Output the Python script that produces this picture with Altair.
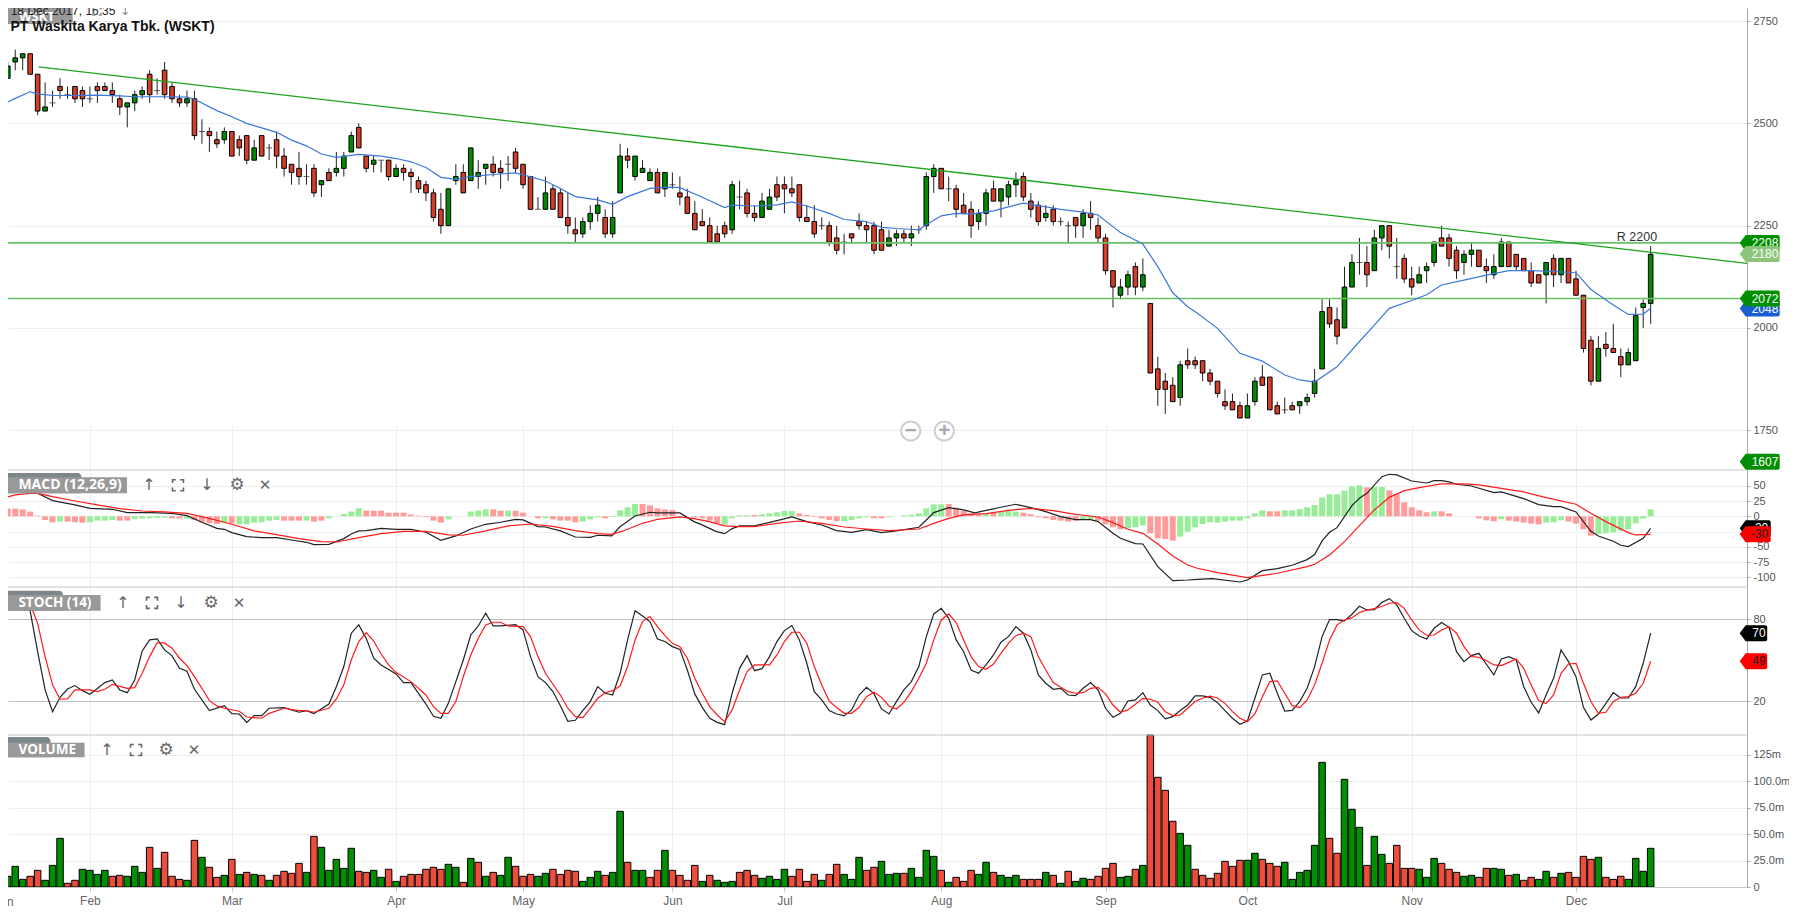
import altair as alt
import pandas as pd

# ---- candles (one value per trading day) ----
opens = [2640,2610,2650,2660,2670,2620,2530,2550,2590,2570,
 2590,2580,2560,2590,2590,2580,2560,2540,2550,2570,
 2620,2580,2630,2590,2560,2550,2560,2480,2480,2460,
 2460,2480,2460,2470,2410,2470,2440,2460,2420,2400,
 2390,2370,2390,2350,2380,2380,2390,2430,2490,2420,
 2400,2410,2410,2370,2390,2380,2360,2350,2330,2290,
 2250,2360,2380,2360,2370,2390,2400,2390,2400,2430,
 2400,2370,2290,2290,2340,2330,2270,2240,2230,2260,
 2280,2270,2230,2330,2420,2370,2380,2360,2380,2340,
 2350,2330,2320,2280,2260,2250,2230,2250,2240,2320,
 2330,2280,2270,2290,2350,2350,2340,2350,2270,2260,
 2250,2250,2220,2210,2230,2260,2250,2250,2240,2200,
 2220,2230,2220,2240,2250,2370,2390,2340,2340,2300,
 2290,2260,2280,2340,2310,2320,2350,2370,2310,2300,
 2270,2290,2260,2250,2270,2250,2280,2250,2220,2140,
 2080,2100,2150,2100,2060,1900,1870,1860,1830,1920,
 1920,1920,1890,1870,1820,1820,1810,1780,1820,1880,
 1880,1810,1800,1810,1810,1820,1840,1900,2050,2020,
 2000,2100,2160,2160,2140,2220,2250,2150,2170,2120,
 2110,2140,2160,2220,2220,2190,2160,2180,2190,2150,
 2130,2150,2210,2180,2170,2140,2130,2130,2170,2130,
 2170,2120,2080,1970,1870,1960,1950,1930,1910,1920,
 2050,2060]
highs = [2650,2650,2680,2670,2670,2620,2600,2580,2610,2590,
 2590,2590,2590,2600,2600,2600,2570,2550,2580,2590,
 2630,2610,2650,2600,2570,2580,2580,2510,2490,2480,
 2490,2480,2470,2470,2460,2470,2450,2480,2440,2400,
 2430,2400,2400,2360,2390,2430,2430,2480,2500,2420,
 2420,2410,2410,2400,2400,2390,2370,2360,2340,2330,
 2340,2400,2400,2440,2410,2400,2420,2410,2420,2440,
 2400,2370,2320,2370,2350,2340,2330,2270,2270,2300,
 2320,2290,2310,2450,2440,2420,2410,2390,2390,2380,
 2380,2370,2340,2310,2290,2270,2250,2260,2360,2360,
 2340,2300,2330,2340,2370,2370,2370,2350,2300,2300,
 2270,2260,2250,2230,2230,2280,2260,2260,2260,2240,
 2240,2240,2250,2250,2380,2400,2390,2370,2350,2330,
 2310,2290,2340,2360,2340,2360,2380,2380,2330,2310,
 2300,2300,2270,2260,2270,2290,2310,2270,2230,2140,
 2120,2140,2160,2170,2060,1930,1890,1880,1920,1950,
 1930,1920,1900,1870,1850,1840,1820,1840,1880,1910,
 1880,1820,1830,1820,1820,1840,1900,2070,2070,2050,
 2150,2180,2220,2200,2240,2250,2250,2220,2180,2150,
 2150,2160,2210,2250,2230,2200,2190,2210,2190,2170,
 2180,2220,2210,2180,2170,2160,2130,2160,2180,2170,
 2170,2140,2080,1980,1980,1990,2010,1950,1950,2050,
 2070,2200]
lows = [2610,2610,2630,2630,2620,2520,2530,2540,2560,2560,
 2550,2540,2550,2550,2580,2550,2520,2490,2530,2560,
 2550,2570,2560,2550,2540,2540,2460,2450,2430,2440,
 2450,2420,2420,2400,2410,2420,2410,2390,2370,2350,
 2350,2350,2320,2320,2360,2370,2370,2430,2440,2380,
 2380,2380,2360,2370,2360,2330,2330,2310,2260,2230,
 2250,2350,2330,2360,2340,2350,2370,2340,2360,2380,
 2340,2290,2290,2290,2290,2270,2230,2210,2220,2240,
 2260,2220,2220,2330,2390,2360,2380,2360,2330,2320,
 2340,2300,2280,2240,2250,2210,2210,2220,2230,2290,
 2270,2260,2270,2290,2310,2280,2320,2260,2260,2220,
 2240,2200,2180,2180,2210,2240,2210,2180,2190,2200,
 2200,2210,2200,2230,2240,2330,2340,2310,2270,2280,
 2220,2240,2250,2310,2270,2300,2320,2310,2270,2250,
 2260,2250,2250,2210,2220,2220,2240,2210,2130,2050,
 2070,2080,2080,2090,1890,1810,1790,1820,1810,1900,
 1900,1870,1860,1830,1800,1800,1780,1780,1810,1860,
 1800,1790,1790,1800,1790,1810,1830,1900,2000,1960,
 2000,2100,2130,2100,2140,2190,2170,2120,2110,2080,
 2110,2110,2150,2200,2150,2120,2130,2150,2150,2110,
 2120,2150,2150,2140,2140,2100,2110,2060,2100,2110,
 2110,2080,1940,1860,1870,1930,1940,1880,1910,1920,
 2000,2010]
closes = [2630,2640,2660,2670,2620,2530,2540,2550,2580,2570,
 2560,2560,2560,2580,2580,2570,2540,2550,2570,2580,
 2570,2580,2570,2560,2550,2560,2470,2480,2470,2450,
 2480,2420,2440,2410,2440,2420,2440,2420,2390,2380,
 2370,2370,2330,2360,2360,2390,2420,2470,2440,2390,
 2410,2410,2370,2390,2380,2370,2340,2330,2270,2250,
 2340,2370,2330,2440,2380,2400,2380,2380,2400,2390,
 2350,2290,2290,2330,2290,2270,2250,2230,2260,2280,
 2300,2230,2270,2420,2410,2420,2390,2380,2330,2380,
 2350,2320,2280,2240,2250,2210,2210,2230,2350,2320,
 2280,2270,2310,2320,2320,2340,2330,2270,2260,2230,
 2250,2210,2190,2210,2220,2250,2240,2190,2190,2220,
 2230,2220,2230,2240,2370,2390,2340,2340,2290,2280,
 2250,2280,2330,2310,2340,2350,2360,2320,2290,2260,
 2280,2260,2260,2250,2250,2280,2270,2220,2140,2100,
 2100,2130,2100,2130,1890,1850,1850,1820,1910,1910,
 1910,1890,1870,1840,1810,1800,1780,1810,1870,1860,
 1800,1790,1800,1800,1820,1830,1870,2040,2010,1980,
 2100,2160,2160,2130,2220,2250,2200,2150,2120,2100,
 2130,2150,2210,2200,2170,2140,2180,2190,2150,2140,
 2150,2210,2150,2150,2140,2110,2110,2160,2130,2170,
 2110,2080,1950,1870,1950,1950,1940,1910,1940,2030,
 2060,2180]

# ---- moving average ----
ma_i = [0,2,4,5,7,10,13,16,18,22,25,26,29,31,33,35,37,39,41,43,45,48,51,53,55,57,59,61,63,66,69,71,73,75,77,80,
 82,84,87,89.6,91,93.7,97,98,101,104,106,108,111,113,116,118,120,123,124,126,128,130,133,135,137,139,142,145,147,150,153,155,157,159,160.3,
 163,166,169,172,174,176,179,182,184,186,189,191,193,196,199,202,205,208,211,213,216,218,220,221]
ma_v = [2543,2561,2577,2572,2568,2568,2569,2567,2565,2565,2564,2559,2531,2516,2500,2489,2478,2459,2445,2425,2417,2424,2420,2414,2406,2392,2368,2363,2370,2375,2379,2369,2359,2341,2321,2313,
 2302,2321,2341,2344,2343,2322,2294,2300,2298,2301,2308,2298,2280,2265,2260,2246,2243,2240,2252,2274,2280,2278,2286,2296,2305,2299,2290,2283,2276,2233,2205,2150,2086,2052,2036,
 1999,1938,1919,1885,1873,1868,1905,1967,2007,2048,2067,2081,2105,2117,2129,2140,2140,2138,2135,2094,2056,2033,2034,2048]

trend_i = [5.13, 233.9]
trend_v = [2638, 2158]
support_levels = [2208, 2072]

# ---- MACD ----
macd_i = [0,2,4,5,7,10,12,15,17,20,23,25,27,29,30,31,33,35,37,39,41,42,44,46,47,48,49,51,53,55,57,59,61,63,65,67,69,70,72,73,75,77,79,80,
 81.9,82.9,85,87,88,91,92.9,93.9,95.9,97,98,99,101,104,106,108,110,112,114,116,118,120,123,124,125,127,129,130.5,132,134,136,138,140,142,144,146,147,149,150,152,153,155,157,159,160.3,
 162.3,166,167,169,171,173,175,176,177,178,179,181,182,183,185,186,187,189,191,192,193,194,195,197,200,201,204,206,208,209,211,213,214,216,217,218,220,221]
macd_v = [36,48,44,37.7,25.7,18.6,13.1,11.5,6,6,4.9,1.1,-9.8,-19.7,-21.3,-26.8,-33.3,-35,-35,-38.8,-42.6,-46.4,-45.9,-36.6,-29,-24,-23.5,-19.7,-21.3,-21.3,-26.2,-39.3,-32.2,-20.8,-13.1,-9.8,-4.9,-6,-16.9,-17.5,-24,-33.9,-34.4,-31.1,
 -32.2,-18,0.5,6.6,5.5,5.5,-8.7,-13.7,-25.1,-28.4,-20.2,-15.8,-15.8,-7.1,-1.1,-8.7,-14.2,-23.5,-26.2,-21.9,-26.8,-24,-18,-6,6,14.2,10.4,5.5,9.8,14.8,19.7,14.2,7.7,-0.5,-5.5,-5.5,-8.7,-27.9,-36.1,-44.8,-45.4,-82.5,-105.5,-104.4,-103.3,
 -102.2,-107.7,-104.4,-89.1,-85.8,-80.3,-71,-62.8,-40.4,-26.2,-18.6,17.5,29.5,37.7,65,68.9,67.8,57.9,54.6,58.5,58.5,56.3,52.5,49.7,38.8,39.9,29,19.1,15.8,15.8,7.1,-24.6,-32.2,-41,-47.5,-49.7,-36.1,-19.7]
signal_i = [0,2,4,5,7,10,13,16,19,22,25,28,31,34,37,40,43,45,48,51,54,57,60,62,65,68,71,74,77,80,
 81.9,83.4,86,88,91,92.9,94.9,97,99,101,104,107,110,113,116,119,123,125,127,129,132,135,138,141,144,147,149,151,153,155,157,159,160.3,
 163,167,171,175,176,178,180,182,184,186,188,190,193,196,198,201,204,207,211,213,215,218,219,221]
signal_v = [28.4,35,37.7,37.7,32.2,25.1,18.6,12.6,8.7,7.1,4.9,-3.3,-13.1,-24,-30,-36.6,-41.5,-42.1,-35,-28.4,-24.6,-24.6,-30.6,-31.1,-24,-15.8,-12.6,-16.4,-23.5,-28.4,
 -29.5,-24,-11.5,-4.9,-1.1,-3.8,-8.7,-15.8,-16.9,-16.9,-11.5,-7.7,-11.5,-17.5,-20.8,-23.5,-20.8,-11.5,-3.3,2.2,4.4,9.8,13.1,9.3,3.3,-1.1,-10.4,-21.3,-27.9,-45.4,-65,-79.8,-85.2,
 -92.3,-100.5,-93.4,-82.5,-78.7,-63.4,-41.5,-15.3,10.4,31.1,42.1,47,53,53,51.4,45.9,39.9,30.6,19.7,4.9,-8.7,-26.8,-30.6,-29.5]
hist_v = [12.6,12.6,12.6,11.5,7.7,1.1,-6,-9.8,-8.7,-8.7,
 -9.8,-10.4,-9.8,-7.1,-7.1,-6,-7.1,-7.1,-4.9,-3.8,
 -3.3,-2.7,-2.2,-3.3,-3.8,-3.8,-6,-9.8,-11.5,-12.6,
 -10.4,-11.5,-13.1,-13.1,-10.4,-9.8,-7.1,-6,-7.1,-7.1,
 -7.1,-7.1,-8.7,-7.1,-3.3,0,3.8,7.7,13.1,9.3,
 9.3,9.3,6,6,6,2.7,1.1,-1.6,-7.1,-10.4,
 -4.9,0,0,7.7,9.3,11.5,11.5,9.3,9.3,9.3,
 6,0,-3.3,-3.3,-4.9,-7.1,-7.1,-9.8,-8.7,-4.9,
 -1.6,-3.3,-1.1,9.8,14.8,20.2,20.2,18,13.1,11.5,
 10.4,0,0,-1.6,-3.3,-7.1,-11.5,-13.7,-3.3,1.6,
 1.6,2.2,3.3,4.9,6.6,8.7,8.7,4.9,2.2,-1.1,
 -3.3,-6,-8.2,-7.7,-6,-3.3,-1.6,-3.3,-3.3,-1.6,
 0,1.6,2.7,4.9,13.1,19.7,19.7,20.2,14.2,9.3,
 4.9,2.7,3.8,6,7.1,8.7,7.7,6,3.3,-1.6,
 -3.3,-6,-7.1,-8.7,-7.1,-4.9,-4.9,-7.1,-13.1,-18,
 -21.3,-19.7,-18,-14.8,-27.9,-36.1,-37.2,-39.9,-33.3,-25.1,
 -18,-12.6,-9.8,-10.4,-8.7,-7.1,-7.1,-3.3,4.9,9.8,
 8.2,8.2,9.8,9.8,12,14.8,18.6,31.1,36.1,36.1,
 42.1,49.2,50.8,47.5,48.1,48.1,42.6,36.1,23,14.8,
 9.8,6.6,8.2,8.2,4.9,0,0,0,-3.3,-6.6,
 -8.2,-4.9,-7.1,-8.7,-10.4,-12,-13.1,-10.4,-9.8,-6.6,
 -8.7,-12,-21.3,-31.7,-29,-27.9,-26.2,-23.5,-21.3,-11.5,
 -3.8,11.5]
hist_side = list("grrrrrrrgr" "rrggggrrgg" "gggrrgrrrr" "grggggggrr" "rgrrgrgggr"
 "rrrrrrrrrr" "grrgggrrgr" "rrrgrrrrgg" "grggggrrrr" "rrrrrrrggg" "grgggggrrr"
 "rrrggggrrg" "rggggggrrr" "rrgrgggrrr" "rrrrrggrrr" "rgggrrrrgg" "gggggggggg"
 "rrgggggggg" "gggrggrrrr" "rrgrrrrrrr" "rgrrrrrggg" "rrrrgggggg" "gg")

# ---- stochastic ----
k_i = [0,2,3,4,5,6,7,8,9,10,11,12,13,14,15,16,17,18,19,20,21,22,23,24,25,26,28,30,31,32,33,34,35,36,38,40,41,42,44,45,46,47,48,49,50,51,53,54,55,57,58,59,60,62,63,64,65,66,67,69,70,71,72,73,74,75,76,77,78,79,80]
k_v = [96,97,92,86,56.3,28.3,12.4,22.9,29,31.5,27.8,25.1,29.3,33.7,35.6,28.3,26.3,35.6,56.8,64.9,65.6,57.6,53.2,44.1,42,28.8,13.2,16.8,11,10.7,4.6,9.5,9.5,14.9,15.4,12,13.2,11,18,30.7,45.4,69.8,75.9,66.1,51.5,46.6,40,33.7,33.7,18,9,7.6,18.5,50.2,68.5,75.1,84.4,75.1,75.1,76.1,72.2,52.7,38,33.7,27.1,16.8,5.4,6.1,13.2,19.8,30.7]
k2_v = [25.9,24.6,40.5,64.9,86.3,82.4,78.3,65.6,63.7,60,58,42.9,25.4,15.6,7.6,4.6,2.9,25.9,44.1,53.4,42.4,43.9,52.7,63.7,71.7,75.4,64.9,47.8,27.1,21,13.2,10.7,9.3,13.7,24.6,30.2,25.4,14.4,10.7,19.8,28.3,34.4,45.4,67.3,83.9,88,80.7,64.9,56.3,42.9,40.5,46.6,53.9,63.2,67.3,74.6,69.8,57.6,39.3,33.2,28.8,29.5,24.6,24.1,29.5,33.7,28.3,14.9,8.3,11.2,20.2,21,26.3,17.3,13.2,7.1,8.8,13.2,17.3,23.9,
 23.9,22.9,19,13.2,7.6,3.2,5.6,22.2,39.3,40.5,25.9,12.9,13.4,19.8,29.5,45.4,67.3,79.8,79.8,78.8,83.7,89.5,86.8,87.1,92.2,95.1,90.5,80.7,71.7,67.8,65.6,73.4,77.6,74.1,56.3,49,53.4,55.1,47.1,39.3,51,52.7,50.2,30.7,19.3,11.5,24.6,36.8,57.6,49,38,15.6,6.3,10.7,18.5,26.3,22.4,22.4,30.7,47.8,69.8]
d_i = [0,2,3.5,4.4,5,6,7,8,9,10,12,13,14,15,17,18,19,20,21,22,23,24,25,26,27,28,29,30,32,33,35,36,38,40,41,42,44,45,46,47,48,49,50,51,52,53,55,57,58,59,60,61,62,63,64,65,66,67,68,70,71,72,73,75,76,77,78,79,80]
d_v = [92,94,90,85.6,77,52.7,32,21.5,21.7,28.3,28.3,27.1,28.8,32.4,29.5,30,40.5,52.7,62.7,62.7,58.8,51.5,46.1,38,29.5,20.5,16.6,14.9,12.7,8.5,7.6,11.2,14.9,13.2,13.2,12,14.9,21.7,32,50.2,63.7,70.2,64.1,54.6,46.6,41,34.4,24.6,16.1,11.2,11.2,19.8,38,53.9,66.1,75.9,77.8,77.8,75.1,74.6,67.3,52.7,40.5,24.6,14.9,8.8,8,14.9,22.2]
d2_v = [26.3,27.8,31.2,45.4,64.9,78.3,82,74.6,68,62.4,60,51.5,36.8,25.9,16.1,10,5.1,13.7,28.3,41.7,46.6,46.6,46.6,53.9,63.7,70.5,70.5,62.4,45.4,32,20.2,15.4,11.2,11.2,15.6,23.4,26.6,22.9,16.6,14.4,19.3,27.1,36.8,47.8,64.9,79.5,83.9,77.6,64.9,52.7,45.4,43.4,47.3,55.1,62.4,68,69.8,67.3,52.7,42.9,33.7,30.2,27.1,25.9,26.3,29.5,30.2,25.4,17.3,12,13.7,17.8,22.2,21.5,19.3,12.4,9.5,10,14.9,19.8,
 22.2,23.7,22.4,18.5,12.4,7.6,5.1,10.7,23.4,34.4,34.9,25.9,16.8,15.4,21,32,47.8,64.9,75.9,79.5,81.2,84.9,86.8,87.8,89.3,91.7,92.2,88,79.5,72.2,68.3,68.5,72.2,74.6,69.8,60,52.7,52.2,49.8,46.6,46.1,48.5,51,44.1,32,20.5,18.3,24.6,40.5,47.3,47.8,33.2,19.8,11.2,12,19.8,22.9,23.4,25.9,33.2,49.3]

# ---- volume (millions) ----
volume = [10.1,10.1,19.5,7.2,10.1,15.7,6.3,20.4,45.9,3.5,
 6.3,16.7,15.7,11.9,15.7,10.1,11,10.1,19.5,13.8,
 37.4,17.6,32.7,10.1,7.2,6.3,44,28,18.6,9.1,
 11,26.1,11.9,13.8,11.9,11,6.3,11,14.8,12.9,
 22.3,13.8,47.8,37.4,15.7,26.1,17.6,36.5,14.8,13.8,
 15.7,9.1,16.7,5.3,10.1,11.9,11.9,16.7,18.6,16.7,
 21.4,18.6,4.4,27,23.3,10.1,13.8,11,28,19.5,
 10.1,11.9,10.1,12.9,16.7,11.9,15.7,14.8,5.3,9.1,
 14.8,11,13.8,71.4,23.3,15.7,15.7,9.1,15.7,34.6,
 15.7,11,6.3,20.4,5.3,11,6.3,4.4,5.3,13.8,
 15.7,11,8.2,10.1,7.2,16.7,10.1,16.7,5.3,11.9,
 6.3,11.9,21.4,11.9,7.2,28,15.7,18.6,24.2,11.9,
 12.9,12.9,17.6,9.1,34.6,28.9,15.7,4.4,9.1,5.3,
 15.7,11.9,23.3,13.8,11,9.1,11,7.2,7.2,7.2,
 13.8,11,3.5,14.8,5.3,8.2,7.2,10.1,17.6,22.3,
 9.1,10.1,16.7,20.4,144,103.5,91.2,62,50.6,39.3,
 16.7,11,8.2,12.9,24.2,19.5,25.2,25.2,31.8,26.1,
 22.3,19.5,23.3,7.2,13.8,15.7,39.3,117.6,45.9,31.8,
 101.6,73.3,56.3,20.4,47.8,30.8,22.3,39.3,17.6,17.6,
 16.7,9.1,27,22.3,16.7,13.8,10.1,11,9.1,17.6,
 17.6,16.7,11,11.9,6.3,9.1,7.2,14.8,9.1,12.9,
 13.8,9.1,28.9,26.1,28,9.1,7.2,10.1,7.2,27,
 14.8,36.5]
volume_side = list("ggggrrgggr" "rggggrrggg" "rgrrrgrgrr" "grgrgrgrrr" "rgrgggggrr"
 "ggrgrrrrrr" "ggrgrgrggr" "rrggrrrrgg" "grggrggrrg" "rrrrgrgggr" "rrggggrrrr"
 "grrgggrrgg" "grggggrgrr" "rggrgggrrr" "grgrggrrrr" "ggrgrrrrgg" "rrrrrrrggr"
 "rrggggggrr" "gggrggrrrr" "gggrrrggrr" "ggrgrrggrg" "rrrrgrrrgg" "gg")

# ---- axes ----
month_names = ["Feb","Mar","Apr","May","Jun","Jul","Aug","Sep","Oct","Nov","Dec"]
month_index = [12,31,53,70,90,105,126,148,167,189,211]
price_ticks = [1750,2000,2250,2500,2750]
macd_ticks = [50,25,0,-25,-50,-75,-100]
stoch_ticks = [20,80]
vol_ticks = [0,25,50,75,100,125]

FONT = "Liberation Sans"
GREEN, RED = "#008a00", "#d43d27"
WIDTH, HEIGHT = 1739, 879
TOP = 8
X_DOM = [1.031, 233.9]
x_scale = alt.Scale(domain=X_DOM, nice=False, zero=False, padding=0)
one = pd.DataFrame({"a": [0]})
days = list(range(len(opens)))

cand = pd.DataFrame(dict(i=days, o=opens, h=highs, l=lows, c=closes))
up = cand[cand.c > cand.o]
down = cand[cand.c < cand.o]
doji = cand[cand.c == cand.o]


def xaxis():
    names = str(month_names).replace(" ", "")
    return alt.Axis(values=month_index, title=None, grid=True, gridColor="#eeeeee", gridWidth=1,
                    domain=True, domainColor="#c6c6c6", domainWidth=1,
                    labels=True, ticks=True, tickColor="#c6c6c6", tickSize=4, labelColor="#666666",
                    labelFont=FONT, labelFontSize=12, labelPadding=4,
                    labelExpr=f"{names}[indexof({month_index},datum.value)]", labelOverlap=False)


def yaxis(values, grid="#eeeeee", expr="toString(datum.value)"):
    return alt.Axis(orient="right", values=values, title=None, grid=True, gridColor=grid, gridWidth=1,
                    domain=True, domainColor="#a8a8a8", tickColor="#a8a8a8", tickSize=3,
                    labelColor="#555555", labelFont=FONT, labelFontSize=11, labelPadding=3,
                    labelOverlap=False, labelFlush=False, labelExpr=expr)


def box(x1, x2, y1, y2, color):
    return alt.Chart(one).mark_rect(color=color).encode(
        x=alt.value(x1 - 8), x2=alt.value(x2 - 8), y=alt.value(y1 - TOP), y2=alt.value(y2 - TOP))


def label(text, x, y, size=12, color="#333333", weight="normal", align="left", font=FONT):
    return alt.Chart(one).mark_text(text=text, font=font, fontSize=size, color=color, fontWeight=weight,
                                    align=align, baseline="middle").encode(
        x=alt.value(x - 8), y=alt.value(y - TOP))


def separator(y):
    return alt.Chart(one).mark_rule(color="#c6c6c6", strokeWidth=1).encode(
        x=alt.value(0), x2=alt.value(WIDTH), y=alt.value(y - TOP))


def tag_path(width):
    right = -1 + width / 20
    return (f"M-1,0L-0.7,-0.4H{right-0.1:.3f}Q{right:.3f},-0.4 {right:.3f},-0.3V0.3"
            f"Q{right:.3f},0.4 {right-0.1:.3f},0.4H-0.7Z")


def tag(text, yval, color, width, tx=1765, textcolor="white"):
    """Price tag sitting on the axis; yval is a y pixel on the page."""
    shape = alt.Chart(one).mark_point(shape=tag_path(width), filled=True, opacity=1, size=1600,
                                      color=color, strokeWidth=0).encode(
        x=alt.value(1759.7 - 8), y=alt.value(yval - TOP))
    return shape + label(text, tx, yval, size=12, color=textcolor, align="center")


def frame_icon(x, y, color="#666666", size=120):
    return alt.Chart(one).mark_point(
        shape="M-1,-0.4V-1H-0.4M0.4,-1H1V-0.4M1,0.4V1H0.4M-0.4,1H-1V0.4",
        size=size, color=color, strokeWidth=1.6, filled=False, opacity=1).encode(
        x=alt.value(x - 8), y=alt.value(y - TOP))


def header(name, x2, y1, y2, dark_x2, dark_top, icons, font_size=13.5):
    ic = "#666666"
    ly = (y1 + y2) / 2
    layers = [
        alt.Chart(one).mark_rect(color="#7d878b", cornerRadiusTopRight=4).encode(
            x=alt.value(0), x2=alt.value(dark_x2 - 8), y=alt.value(dark_top - TOP), y2=alt.value(y2 - TOP)),
        box(8, x2, y1, y2, "#999999"),
        label(name, 18.4, ly, size=font_size, color="white", weight="bold", font="Open Sans"),
    ]
    sizes = {"↑": 16, "↓": 16, "⚙": 17, "✕": 15}
    for kind, x in icons:
        if kind == "frame":
            layers.append(frame_icon(x, ly))
        else:
            layers.append(label(kind, x, ly, size=sizes[kind], color=ic, align="center", font="DejaVu Sans"))
    return layers


# ---------- main price panel ----------
p_scale = alt.Scale(domain=[1653, 2781.8], range=[462, 0], nice=False, zero=False)
wicks = alt.Chart(cand).mark_rule(color="#222222", strokeWidth=1, clip=True).encode(
    x=alt.X("i:Q", scale=x_scale, axis=xaxis()),
    y=alt.Y("l:Q", scale=p_scale, axis=yaxis(price_ticks)), y2="h:Q")


def bodies(df, color):
    return alt.Chart(df).mark_bar(size=4.6, color=color, stroke="black", strokeWidth=1, clip=True).encode(
        x=alt.X("i:Q", scale=x_scale), y=alt.Y("o:Q", scale=p_scale, axis=yaxis(price_ticks)), y2="c:Q")


dojis = alt.Chart(doji).mark_tick(orient="horizontal", size=6, thickness=1, color="#222222", clip=True).encode(
    x=alt.X("i:Q", scale=x_scale), y=alt.Y("o:Q", scale=p_scale, axis=yaxis(price_ticks)))
ma_line = alt.Chart(pd.DataFrame(dict(i=ma_i, v=ma_v))).mark_line(
    color="#3b78dc", strokeWidth=1.2, clip=True).encode(
    x=alt.X("i:Q", scale=x_scale), y=alt.Y("v:Q", scale=p_scale, axis=yaxis(price_ticks)))
trend = alt.Chart(pd.DataFrame(dict(i=trend_i, v=trend_v))).mark_line(
    color="#1ea51e", strokeWidth=1.3, clip=True).encode(
    x=alt.X("i:Q", scale=x_scale), y=alt.Y("v:Q", scale=p_scale, axis=yaxis(price_ticks)))
support = alt.Chart(pd.DataFrame(dict(v=support_levels))).mark_rule(
    color="#66c266", strokeWidth=1.6).encode(y=alt.Y("v:Q", scale=p_scale, axis=yaxis(price_ticks)))


def zoom_button(x, glyph):
    return [alt.Chart(one).mark_point(shape="circle", size=370, filled=True, fill="white", stroke="#cfcfcf",
                                      strokeWidth=2, opacity=1).encode(
                x=alt.value(x - 8), y=alt.value(431 - TOP)),
            label(glyph, x, 431, size=21, color="#aaaaaa", weight="bold", align="center")]


main = alt.layer(
    wicks, bodies(up, GREEN), bodies(down, RED), dojis, support, trend, ma_line,
    box(8, 72.7, 8, 24, "#999999"),
    label("WSKT", 19, 16.5, size=13, color="white", weight="bold", font="Open Sans"),
    label("18 Dec 2017, 16:35", 10.7, 10.5, size=12, color="#222222"),
    frame_icon(97, 11, color="#aaaaaa", size=70),
    label("↓", 125, 11, size=12, color="#888888", font="DejaVu Sans", align="center"),
    label("PT Waskita Karya Tbk. (WSKT)", 10.5, 27, size=14, color="#111111", weight="bold"),
    label("R 2200", 1637, 237, size=12.5, color="#333333", align="center"),
    *zoom_button(910.7, "−"), *zoom_button(944.3, "+"),
    tag("2208", 243, "#008f00", 40),
    tag("2180", 254, "#8cc47a", 40),
    tag("2048", 308.5, "#1a5fd0", 40),
    tag("2072", 298.5, "#008f00", 40),
    tag("1607", 461.7, "#008f00", 40),
)

# ---------- MACD panel ----------
m_scale = alt.Scale(domain=[-115.9, 75.9], range=[579, 462], nice=False, zero=False)
hist_df = pd.DataFrame(dict(i=days, v=hist_v, s=hist_side, z=[0] * len(days)))
hist = alt.Chart(hist_df).mark_bar(size=6, clip=True).encode(
    x=alt.X("i:Q", scale=x_scale),
    y=alt.Y("v:Q", scale=m_scale, axis=yaxis(macd_ticks)), y2="z:Q",
    color=alt.Color("s:N", scale=alt.Scale(domain=["g", "r"], range=["#98ee98", "#ff9b9b"]), legend=None))


def ind_line(xs, ys, color, scale, ticks, **axis_kw):
    return alt.Chart(pd.DataFrame(dict(i=xs, v=ys))).mark_line(color=color, strokeWidth=1.2, clip=True).encode(
        x=alt.X("i:Q", scale=x_scale), y=alt.Y("v:Q", scale=scale, axis=yaxis(ticks, **axis_kw)))


macd_panel = alt.layer(
    hist,
    ind_line(macd_i, macd_v, "#222222", m_scale, macd_ticks),
    ind_line(signal_i, signal_v, "#ff1a1a", m_scale, macd_ticks),
    separator(470),
    *header("MACD (12,26,9)", 127, 477.3, 493.3, 81.5, 473,
            [("↑", 149), ("frame", 178), ("↓", 207), ("⚙", 237), ("✕", 265)], font_size=14),
    tag("-20", 528.3, "black", 31, tx=1759.6),
    tag("-30", 534.3, "#ff0000", 31, tx=1759.6, textcolor="#222222"),
)

# ---------- STOCH panel ----------
s_scale = alt.Scale(domain=[-4.65, 103.6], range=[727, 579], nice=False, zero=False)
stoch_k_i = k_i + list(range(81, 222))
stoch_k_v = k_v + k2_v
stoch_d_i = d_i + list(range(81, 222))
stoch_d_v = d_v + d2_v
stoch_panel = alt.layer(
    ind_line(stoch_k_i, stoch_k_v, "#222222", s_scale, stoch_ticks, grid="#c0c0c0"),
    ind_line(stoch_d_i, stoch_d_v, "#ff1a1a", s_scale, stoch_ticks, grid="#c0c0c0"),
    separator(587),
    *header("STOCH (14)", 100.6, 595, 610.7, 63, 590.7,
            [("↑", 123), ("frame", 152), ("↓", 181), ("⚙", 211), ("✕", 239)]),
    tag("70", 633.3, "black", 27.5, tx=1759),
    tag("49", 661.3, "#ff0000", 27.5, tx=1759, textcolor="#222222"),
)

# ---------- VOLUME panel ----------
v_scale = alt.Scale(domain=[0, 143.4], range=[879, 727], nice=False, zero=True, clamp=True)
vol_df = pd.DataFrame(dict(i=days, v=volume, s=volume_side))
vol_bars = alt.Chart(vol_df).mark_bar(size=6.5, stroke="black", strokeWidth=1, clip=True).encode(
    x=alt.X("i:Q", scale=x_scale),
    y=alt.Y("v:Q", scale=v_scale, axis=yaxis(
        vol_ticks, expr="datum.value==0?'0':datum.value==125?'125m':format(datum.value,'.1f')+'m'")),
    color=alt.Color("s:N", scale=alt.Scale(domain=["g", "r"], range=["#008f00", "#ee4d3c"]), legend=None))
vol_panel = alt.layer(
    vol_bars,
    separator(735),
    *header("VOLUME", 84.6, 742.7, 757.3, 50.5, 737,
            [("↑", 107), ("frame", 136), ("⚙", 166), ("✕", 194)]),
    label("Jan", 4, 902, size=12, color="#666666", align="center"),
)

chart = alt.layer(main, macd_panel, stoch_panel, vol_panel).resolve_scale(
    y="independent", color="independent"
).properties(
    width=WIDTH, height=HEIGHT,
    padding={"left": 0, "top": 0, "right": 42, "bottom": 21},
    autosize=alt.AutoSizeParams(type="none"),
).configure_view(stroke=None)

chart.save("out.html", embed_options={"renderer": "svg", "actions": False})
